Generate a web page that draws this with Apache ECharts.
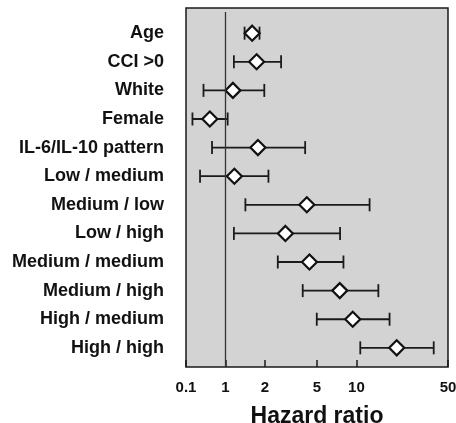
<!DOCTYPE html>
<html>
<head>
<meta charset="utf-8">
<script src="https://cdn.jsdelivr.net/npm/echarts@6/dist/echarts.min.js"></script>
<style>
html,body{margin:0;padding:0;background:#fff;}
#chart{width:456px;height:423px;}
</style>
</head>
<body>
<div id="chart"></div>
<script>
const categories = ['Age','CCI >0','White','Female','IL-6/IL-10 pattern','Low / medium','Medium / low','Low / high','Medium / medium','Medium / high','High / medium','High / high'];
const hazardRatio = [1.60, 1.73, 1.14, 0.76, 1.77, 1.17, 4.18, 2.87, 4.38, 7.46, 9.37, 20.3];
const lowerCI =     [1.40, 1.16, 0.68, 0.56, 0.79, 0.64, 1.42, 1.16, 2.51, 3.89, 4.98, 10.7];
const upperCI =     [1.82, 2.66, 1.98, 1.04, 4.06, 2.13, 12.6, 7.5, 7.96, 14.7, 17.9, 38.9];
const tickValues = [0.5, 1, 2, 5, 10, 50];
const tickLabels = ['0.1', '1', '2', '5', '10', '50'];
const referenceHR = 1;
const rowIndex = categories.map((c, i) => i);

const FONT = '"Liberation Sans", Arial, Helvetica, sans-serif';
const chart = echarts.init(document.getElementById('chart'));

const ciData = categories.map((c, i) => [lowerCI[i], upperCI[i], i]);
const pointData = categories.map((c, i) => [hazardRatio[i], i]);
const Y_MIN = -0.88, Y_MAX = 11.67;

chart.setOption({
  animation: false,
  grid: {
    left: 186, right: 8, top: 8, bottom: 56,
    outerBoundsMode: 'none', containLabel: false,
    show: true, backgroundColor: '#d3d3d3',
    borderColor: '#1a1a1a', borderWidth: 1.5
  },
  xAxis: {
    type: 'log', logBase: 10, min: 0.5, max: 50,
    axisLine: { show: false, onZero: false },
    axisTick: { show: true, inside: true, length: 7, customValues: tickValues,
      lineStyle: { color: '#1a1a1a', width: 1.5 } },
    axisLabel: { customValues: tickValues, margin: 13,
      formatter: v => { const k = tickValues.findIndex(t => Math.abs(t - v) < 1e-6); return k >= 0 ? tickLabels[k] : ''; },
      fontFamily: FONT, fontWeight: 'bold', fontSize: 15, color: '#111' },
    splitLine: { show: false },
    minorTick: { show: false },
    name: 'Hazard ratio', nameLocation: 'middle', nameGap: 38,
    nameTextStyle: { fontFamily: FONT, fontWeight: 'bold', fontSize: 23, color: '#111' }
  },
  yAxis: {
    type: 'value', inverse: true, min: Y_MIN, max: Y_MAX,
    axisLine: { show: false, onZero: false },
    axisTick: { show: false },
    splitLine: { show: false },
    axisLabel: { customValues: rowIndex, margin: 22,
      formatter: v => categories[Math.round(v)] || '',
      fontFamily: FONT, fontWeight: 'bold', fontSize: 18, color: '#111' }
  },
  series: [
    {
      type: 'custom',
      data: ciData,
      encode: { x: [0, 1], y: 2 },
      renderItem: function (params, api) {
        const y = api.value(2);
        const p1 = api.coord([api.value(0), y]);
        const p2 = api.coord([api.value(1), y]);
        const h = 6.5;
        const style = { stroke: '#1a1a1a', lineWidth: 1.8 };
        return {
          type: 'group',
          children: [
            { type: 'line', shape: { x1: p1[0], y1: p1[1], x2: p2[0], y2: p2[1] }, style },
            { type: 'line', shape: { x1: p1[0], y1: p1[1] - h, x2: p1[0], y2: p1[1] + h }, style },
            { type: 'line', shape: { x1: p2[0], y1: p2[1] - h, x2: p2[0], y2: p2[1] + h }, style }
          ]
        };
      },
      z: 2,
      markLine: {
        silent: true, symbol: 'none', label: { show: false },
        lineStyle: { color: '#333', width: 1.3, type: 'solid' },
        data: [[{ coord: [referenceHR, Y_MIN + 0.14] }, { coord: [referenceHR, Y_MAX] }]]
      }
    },
    {
      type: 'scatter',
      data: pointData,
      symbol: 'diamond',
      symbolSize: [15, 15],
      itemStyle: { color: '#ffffff', borderColor: '#111', borderWidth: 2.2, opacity: 1 },
      z: 3
    }
  ]
});
</script>
</body>
</html>
